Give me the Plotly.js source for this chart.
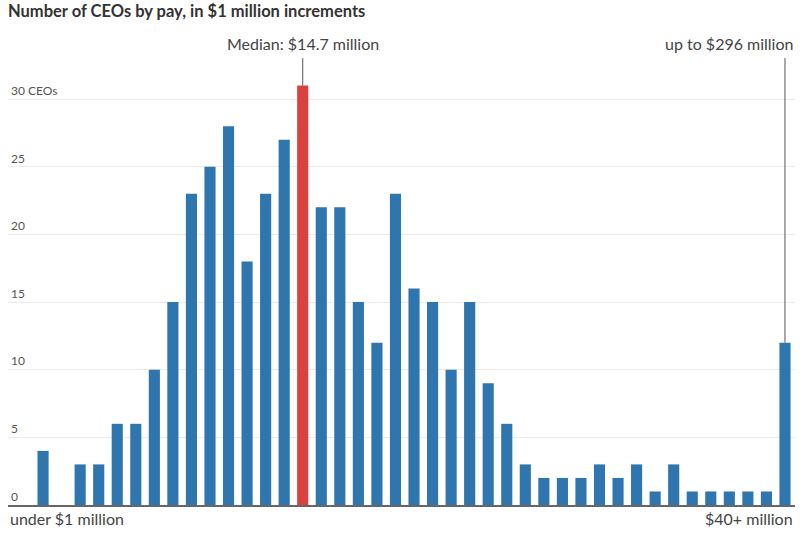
<!DOCTYPE html>
<html><head><meta charset="utf-8">
<script src="https://cdn.plot.ly/plotly-3.0.1.min.js"></script>
<style>html,body{margin:0;padding:0;background:#fff}#c{width:800px;height:533px}</style>
</head><body><div id="c"></div>
<script>
const bins = Array.from({length:41},(_,i)=>i);
const counts = [4,0,3,3,6,6,10,15,23,25,28,18,23,27,31,22,22,15,12,23,16,15,10,15,9,6,3,2,2,2,3,2,3,1,3,1,1,1,1,1,12];
const medianBin = 14;
const lastBin = 40;
const yTicks = [0,5,10,15,20,25,30];
const yTickText = ['0','5','10','15','20','25','30 CEOs'];
const colors = bins.map(b => b===medianBin ? '#d9423f' : '#2f75ae');

const trace = {type:'bar', x:bins, y:counts, marker:{color:colors, line:{width:0}}, hoverinfo:'x+y'};
const fnt = 'Lato, "Open Sans", sans-serif';
const layout = {
  width:800, height:533,
  margin:{l:8,r:5,t:72,b:28},
  paper_bgcolor:'#fff', plot_bgcolor:'#fff',
  bargap:0.4,
  showlegend:false,
  title:{text:'<b>Number of CEOs by pay, in $1 million increments</b>', x:0.01, xanchor:'left', y:0.99, yanchor:'top', font:{family:fnt, size:16.5, color:'#333'}},
  xaxis:{range:[-1.89,40.54], showticklabels:false, showgrid:false, zeroline:false, showline:true, linecolor:'#666', linewidth:1.5, ticks:''},
  yaxis:{range:[0,32], tickvals:yTicks, ticktext:yTickText, ticklabelposition:'inside top', showgrid:true, gridcolor:'#ebebeb', zeroline:false, ticks:'', tickfont:{family:fnt, size:12, color:'#555'}},
  shapes:[
    {type:'line', xref:'x', yref:'paper', x0:medianBin, x1:medianBin, y0:counts[medianBin]/32, y1:1.032, line:{color:'#555', width:1}},
    {type:'line', xref:'x', yref:'paper', x0:lastBin, x1:lastBin, y0:counts[lastBin]/32, y1:1.032, line:{color:'#555', width:1}}
  ],
  annotations:[
    {text:'Median: $14.7 million', xref:'x', yref:'paper', x:medianBin, y:1.04, xanchor:'center', yanchor:'bottom', showarrow:false, font:{family:fnt, size:16, color:'#444'}},
    {text:'up to $296 million', xref:'paper', yref:'paper', x:1.0, y:1.04, xanchor:'right', yanchor:'bottom', showarrow:false, font:{family:fnt, size:16, color:'#444'}},
    {text:'under $1 million', xref:'paper', yref:'paper', x:0, y:-0.005, xanchor:'left', yanchor:'top', showarrow:false, font:{family:fnt, size:16, color:'#444'}},
    {text:'$40+ million', xref:'paper', yref:'paper', x:1.0, y:-0.005, xanchor:'right', yanchor:'top', showarrow:false, font:{family:fnt, size:16, color:'#444'}}
  ]
};
Plotly.newPlot('c',[trace],layout,{displayModeBar:false, staticPlot:true});
</script></body></html>
